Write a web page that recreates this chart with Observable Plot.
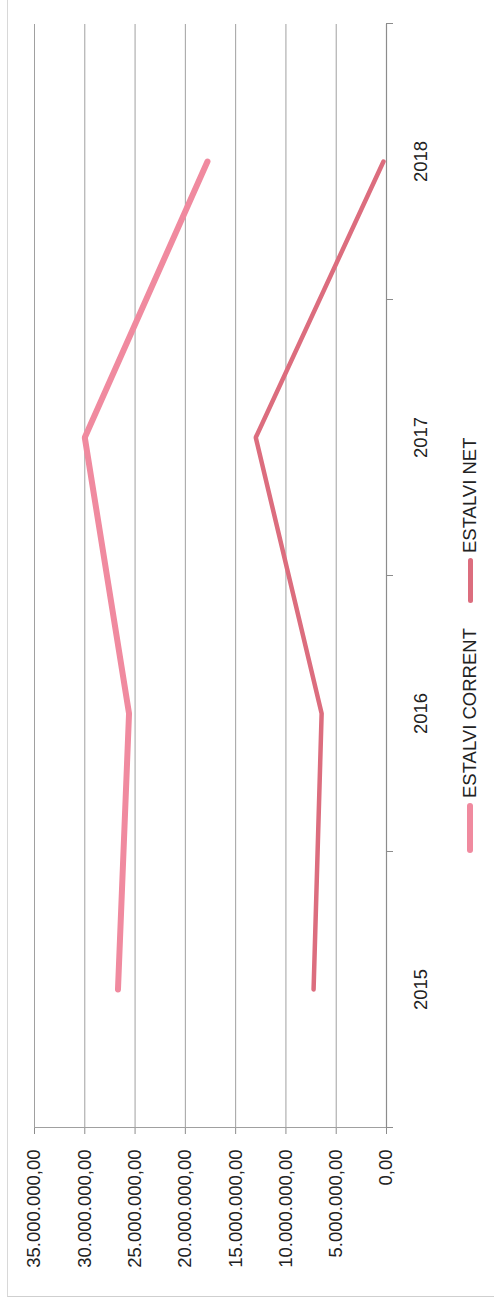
<!DOCTYPE html>
<html>
<head>
<meta charset="utf-8">
<script src="https://cdn.jsdelivr.net/npm/d3@7"></script>
<script src="https://cdn.jsdelivr.net/npm/@observablehq/plot@0.6"></script>
<style>
  html, body { margin: 0; padding: 0; background: #fff; }
  body { width: 494px; height: 1306px; overflow: hidden; position: relative; }
  #page {
    position: absolute; left: 0; top: 0;
    width: 1306px; height: 494px;
    transform-origin: 0 0;
    transform: translate(0px, 1306px) rotate(-90deg);
    font-family: "Liberation Sans", Arial, sans-serif;
    color: #222;
  }
  #frame {
    position: absolute; left: 9px; top: 7px; right: -10px; bottom: -10px;
    border-left: 1px solid #cfcfcf; border-top: 1px solid #d8d8d8;
    pointer-events: none;
  }
  #chart { position: absolute; left: 0; top: 0; }
  #legend {
    position: absolute; left: 0; top: 440px; width: 1306px; height: 54px;
    display: flex; align-items: center; padding-left: 453px; box-sizing: border-box;
    font-size: 18.5px; color: #222; margin-top: 3px;
  }
  .item { display: flex; align-items: center; margin-right: 25px; }
  .swatch { display: inline-block; height: 6px; border-radius: 3px; margin-right: 5px; }
</style>
</head>
<body>
<div id="page">
  <div id="frame"></div>
  <div id="chart"></div>
  <div id="legend"></div>
</div>
<script>
// ---- data ----
const years = [2015, 2016, 2017, 2018];
const seriesNames = ["ESTALVI CORRENT", "ESTALVI NET"];
const estalviCorrent = [26700000, 25600000, 30000000, 17800000];
const estalviNet = [7250000, 6450000, 13000000, 300000];
const valueTicks = [0, 5000000, 10000000, 15000000, 20000000, 25000000, 30000000, 35000000];
const seriesColors = ["#f08a9f", "#dc6d7e"];
const seriesWidths = [6, 4.5];

// ---- build table ----
const rows = [];
years.forEach((y, i) => {
  rows.push({year: y, value: estalviCorrent[i], serie: seriesNames[0]});
  rows.push({year: y, value: estalviNet[i], serie: seriesNames[1]});
});
const bounds = [years[0] - 0.5, ...years.map(y => y + 0.5)];

const locale = d3.formatLocale({decimal: ",", thousands: ".", grouping: [3], currency: ["", ""]});
const fmt = locale.format(",.2f");

const chart = Plot.plot({
  width: 1306,
  height: 440,
  marginLeft: 178,
  marginRight: 24,
  marginTop: 34,
  marginBottom: 54,
  style: {fontFamily: "Liberation Sans, Arial, sans-serif", fontSize: "18.5px", color: "#222", background: "transparent"},
  x: {type: "linear", domain: [bounds[0], bounds[bounds.length - 1]], label: null},
  y: {domain: [0, 35000000], label: null},
  marks: [
    Plot.ruleY(valueTicks.filter(v => v > 0), {stroke: "#a0a0a0", strokeWidth: 1}),
    Plot.ruleY([0], {stroke: "#8c8c8c", strokeWidth: 1.2}),
    Plot.ruleX([bounds[0]], {stroke: "#a0a0a0", strokeWidth: 1}),
    Plot.axisY({ticks: valueTicks, tickSize: 6, tickPadding: 16, tickFormat: fmt, stroke: "#8c8c8c", fill: "#222", fontSize: 18.5, label: null}),
    Plot.axisX({ticks: bounds, tickSize: 7, tickFormat: () => "", stroke: "#8c8c8c", label: null}),
    Plot.axisX({ticks: years, tickSize: 0, tickPadding: 27, tickFormat: d => String(d), fill: "#222", fontSize: 18.5, label: null}),
    ...seriesNames.map((name, k) =>
      Plot.lineY(rows.filter(r => r.serie === name), {
        x: "year", y: "value", stroke: seriesColors[k], strokeWidth: seriesWidths[k],
        strokeLinecap: "round", strokeLinejoin: "miter"
      })
    )
  ]
});
document.getElementById("chart").appendChild(chart);

// ---- legend ----
const legend = document.getElementById("legend");
const swatchW = [50, 45];
seriesNames.forEach((name, k) => {
  const it = document.createElement("div");
  it.className = "item";
  const sw = document.createElement("span");
  sw.className = "swatch";
  sw.style.width = swatchW[k] + "px";
  sw.style.height = (seriesWidths[k] + 0.5) + "px";
  sw.style.background = seriesColors[k];
  const tx = document.createElement("span");
  tx.textContent = name;
  it.appendChild(sw);
  it.appendChild(tx);
  legend.appendChild(it);
});
</script>
</body>
</html>
